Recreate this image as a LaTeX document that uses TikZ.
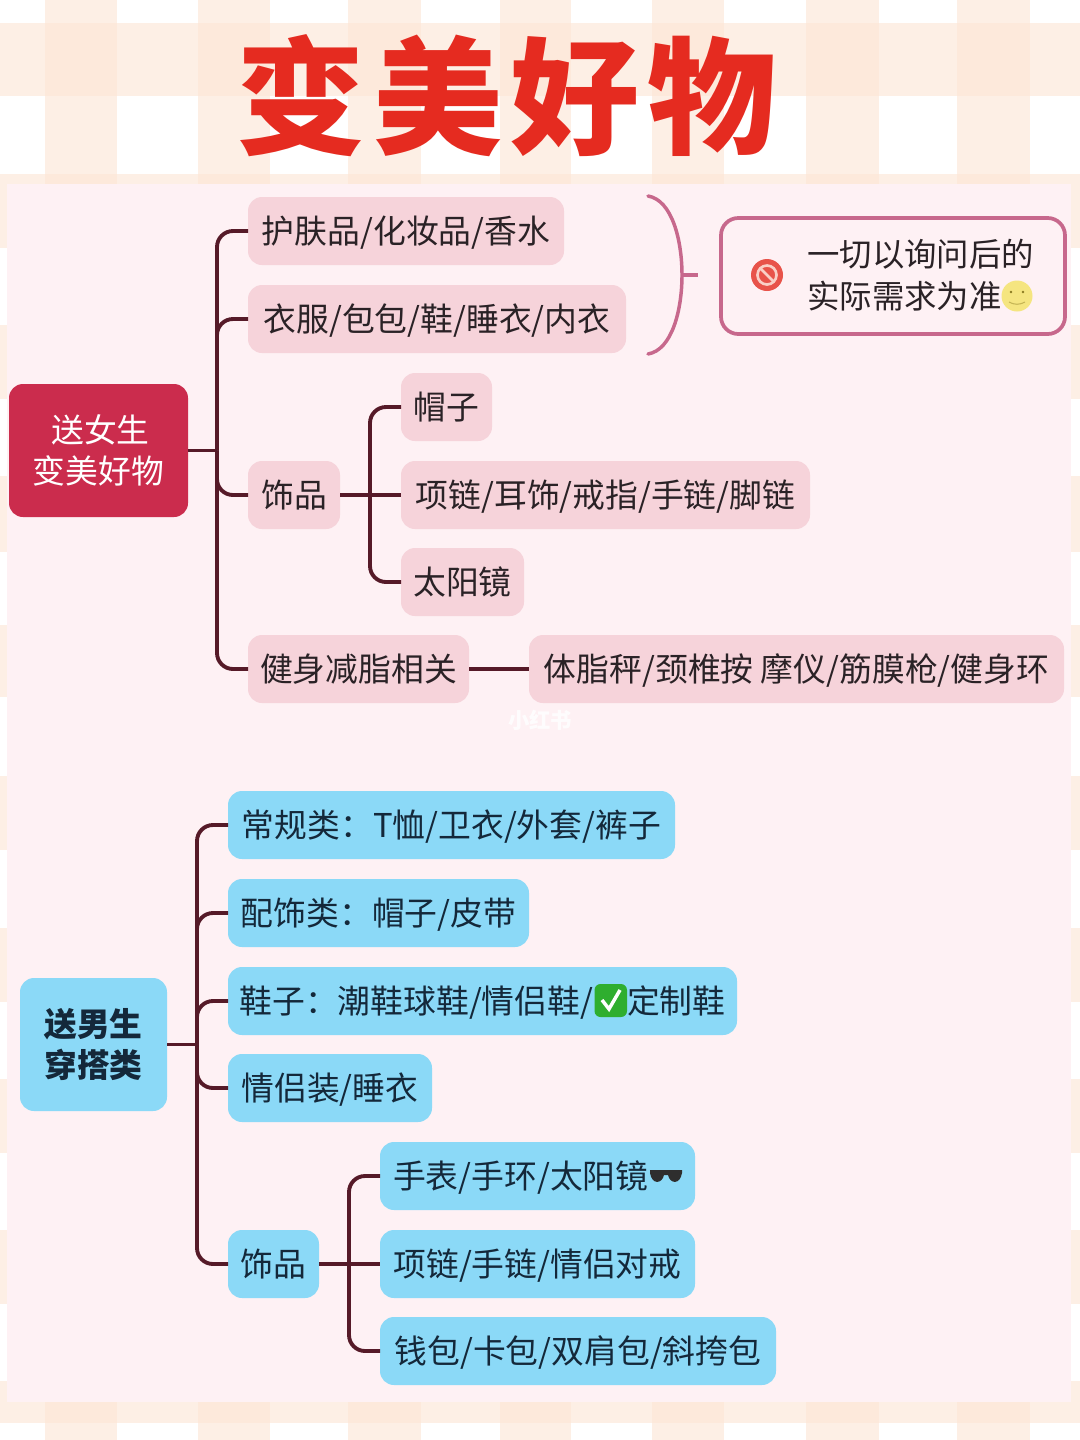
\documentclass[tikz,border=0pt]{standalone}
\usepackage{fontspec}
\setmainfont{Noto Sans CJK SC}
\newfontfamily\titlefont[LetterSpace=6]{Noto Sans CJK SC}
\definecolor{gingham}{HTML}{FDE6D6}
\definecolor{panelc}{HTML}{FEF1F4}
\definecolor{pinkbox}{HTML}{F6D3DA}
\definecolor{bluebox}{HTML}{8BD9F7}
\definecolor{rootred}{HTML}{CB2C4D}
\definecolor{linedark}{HTML}{561A28}
\definecolor{bracec}{HTML}{C7688C}
\definecolor{titlered}{HTML}{E52B20}
\definecolor{inkpink}{HTML}{2A2226}
\definecolor{inkblue}{HTML}{14283A}
\definecolor{forbid}{HTML}{E8534A}
\definecolor{forbidin}{HTML}{F9CFC6}
\definecolor{smile}{HTML}{F5E580}
\definecolor{smiledot}{HTML}{8A7A20}
\definecolor{checkgreen}{HTML}{2FAE2F}
\tikzset{
  x=0.75pt,y=-0.75pt,
  box/.style={rounded corners=10.5pt,inner sep=0pt,outer sep=0pt,minimum height=51pt,font=\fontsize{24.6}{24.6}\selectfont},
  pinknode/.style={box,fill=pinkbox,text=inkpink,text height=20pt,text depth=1.4pt},
  bluenode/.style={box,fill=bluebox,text=inkblue,text height=20pt,text depth=1.4pt},
  conn/.style={draw=linedark,line width=2.9pt,rounded corners=12pt},
  bracket/.style={draw=bracec,line width=2.6pt},
  stripe/.style={fill=gingham,fill opacity=0.62,draw=none}
}
\begin{document}
\begin{tikzpicture}
\useasboundingbox (0,0) rectangle (1080,1440);
\fill[white] (0,0) rectangle (1080,1440);
% gingham
\foreach \a/\b in {45/117,198/270,348/421,500/571,652/724,806/879,957/1030}{
  \fill[stripe] (\a,0) rectangle (\b,1440);
}
\foreach \a/\b in {23/96,174/248,325/399,476/552,625/697,776/850,928/1002,1079/1153,1230/1304,1381/1423}{
  \fill[stripe] (0,\a) rectangle (1080,\b);
}
\fill[panelc] (7,184) rectangle (1071,1402);
% title
\node[name=title,inner sep=0pt,text=titlered,font=\titlefont\bfseries\fontsize{88}{88}\selectfont,xscale=1.1,yscale=1.08] at (506.5,95.5) {变美好物};
% female branch
\node[box,fill=rootred,text=white,align=center,font=\fontsize{24.6}{31}\selectfont,minimum width=134.25pt,minimum height=99.75pt] (rootF) at (98.5,450.5) {\hspace*{3pt}送女生\\变美好物};
\node[pinknode,minimum width=237pt] (n1) at (406,231) {护肤品/化妆品/香水};
\node[pinknode,minimum width=283.5pt] (n2) at (437,319) {衣服/包包/鞋/睡衣/内衣};
\node[pinknode,minimum width=69pt] (n3) at (294,495) {饰品};
\node[pinknode,minimum width=68.25pt] (n3a) at (446.5,407) {帽子};
\node[pinknode,minimum width=306.75pt] (n3b) at (605.5,495) {项链/耳饰/戒指/手链/脚链};
\node[pinknode,minimum width=92.25pt] (n3c) at (462.5,582) {太阳镜};
\node[pinknode,minimum width=165.75pt] (n4) at (358.5,669) {健身减脂相关};
\node[pinknode,minimum width=401.25pt] (n4a) at (796.5,669) {体脂秤/颈椎按 摩仪/筋膜枪/健身环};
\coordinate (hubF) at (217,450.5);
\coordinate (hubFs) at (370,495);
\draw[conn] (rootF.east) -- (hubF);
\foreach \t in {n1,n2,n3,n4}{ \draw[conn] (hubF) |- (\t.west); }
\draw[conn] (n3.east) -- (n3b.west);
\draw[conn] (hubFs) |- (n3a.west);
\draw[conn] (hubFs) |- (n3c.west);
\draw[conn] (n4.east) -- (n4a.west);
% bracket and note
\node[draw=bracec,line width=2.8pt,rounded corners=13pt,inner sep=0pt,minimum width=258pt,minimum height=87pt] (note) at (893,276) {};
\coordinate (brT) at (648,196);
\coordinate (brB) at (648,354);
\coordinate (brM) at (682,275);
\coordinate (brE) at (698,275);
\draw[bracket,line cap=round] (brT) .. controls (672,200) and (682,240) .. (brM) .. controls (682,310) and (672,350) .. (brB);
\draw[bracket] (brM) -- (brE);
\node[inner sep=0pt,anchor=west,text=inkpink,align=left,font=\fontsize{24.3}{31}\selectfont] (notetext) at (807,275) {一切以询问后的\\实际需求为准};
% forbidden icon
\fill[forbid] (767,275) circle [radius=16];
\draw[forbidin,line width=2pt] (767,275) circle [radius=9.5];
\draw[forbidin,line width=2pt] (760.5,268.5) -- (773.5,281.5);
% smiley
\fill[smile] (1017,296) circle [radius=15.5];
\fill[smiledot] (1011,292) circle [radius=1.3] (1023,292) circle [radius=1.3];
\draw[smiledot!45!smile,line width=0.8pt] (1009,302) .. controls (1014,305) and (1020,305) .. (1025,302);
% male branch
\node[box,fill=bluebox,text=inkblue,align=center,font=\bfseries\fontsize{24.6}{31}\selectfont,minimum width=110.25pt,minimum height=99.75pt] (rootM) at (93.5,1044.5) {送男生\\穿搭类};
\node[bluenode,minimum width=335.25pt] (m1) at (451.5,825) {常规类：T恤/卫衣/外套/裤子};
\node[bluenode,minimum width=225.75pt] (m2) at (378.5,913) {配饰类：帽子/皮带};
\node[bluenode,minimum width=381.75pt] (m3) at (482.5,1001) {鞋子：潮鞋球鞋/情侣鞋/\rule{25.5pt}{0pt}定制鞋};
\node[bluenode,minimum width=153pt] (m4) at (330,1088) {情侣装/睡衣};
\node[bluenode,minimum width=68.25pt] (m5) at (273.5,1264) {饰品};
\node[bluenode,minimum width=236.25pt] (m5a) at (537.5,1176) {手表/手环/太阳镜\rule{25pt}{0pt}};
\node[bluenode,minimum width=236.25pt] (m5b) at (537.5,1264) {项链/手链/情侣对戒};
\node[bluenode,minimum width=297pt] (m5c) at (578,1351) {钱包/卡包/双肩包/斜挎包};
\coordinate (hubM) at (197,1044.5);
\coordinate (hubMs) at (349,1264);
\draw[conn] (rootM.east) -- (hubM);
\foreach \t in {m1,m2,m3,m4,m5}{ \draw[conn] (hubM) |- (\t.west); }
\draw[conn] (m5.east) -- (m5b.west);
\draw[conn] (hubMs) |- (m5a.west);
\draw[conn] (hubMs) |- (m5c.west);
% check emoji
\fill[checkgreen,rounded corners=4.5pt] (594.5,984) rectangle (627,1017);
\draw[white,line width=2.6pt] (602,1000) -- (609,1009) -- (620,990);
% sunglasses
\fill[black!82] (650,1170) -- (682,1170) -- (682,1173) .. controls (680,1185) and (670,1184) .. (668,1175) -- (664,1175) .. controls (662,1184) and (652,1185) .. (650,1173) -- cycle;
% watermark
\node[inner sep=0pt,text=white,text opacity=0.85,font=\bfseries\fontsize{16}{16}\selectfont] (mark) at (540,720) {小红书};
\end{tikzpicture}
\end{document}
